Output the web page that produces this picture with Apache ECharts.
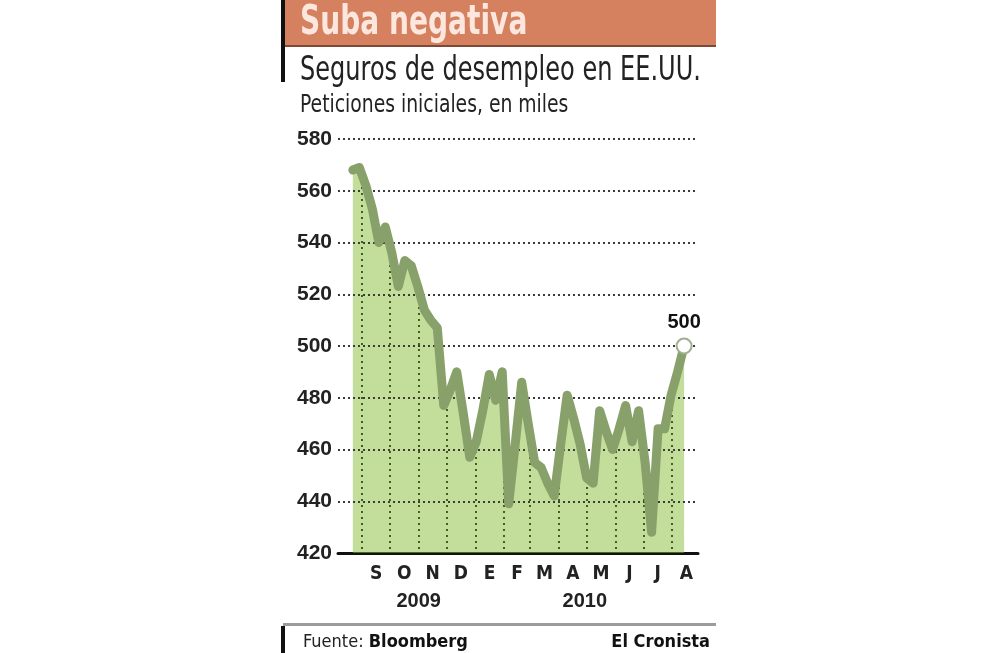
<!DOCTYPE html>
<html>
<head>
<meta charset="utf-8">
<script src="https://cdn.jsdelivr.net/npm/echarts@6/dist/echarts.min.js"></script>
<style>
  html, body { margin: 0; padding: 0; background: #fff; }
  #chart { width: 1000px; height: 653px; }
</style>
</head>
<body>
<div id="chart"></div>
<script>
// semanas (fin de semana) y peticiones iniciales, en miles
const weeks = [
  '2009-08-22', '2009-08-29', '2009-09-05', '2009-09-12', '2009-09-19', '2009-09-26',
  '2009-10-03', '2009-10-10', '2009-10-17', '2009-10-24', '2009-10-31',
  '2009-11-07', '2009-11-14', '2009-11-21', '2009-11-28',
  '2009-12-05', '2009-12-12', '2009-12-19', '2009-12-26',
  '2010-01-02', '2010-01-09', '2010-01-16', '2010-01-23', '2010-01-30',
  '2010-02-06', '2010-02-13', '2010-02-20', '2010-02-27',
  '2010-03-06', '2010-03-13', '2010-03-20', '2010-03-27',
  '2010-04-03', '2010-04-10', '2010-04-17', '2010-04-24',
  '2010-05-01', '2010-05-08', '2010-05-15', '2010-05-22', '2010-05-29',
  '2010-06-05', '2010-06-12', '2010-06-19', '2010-06-26',
  '2010-07-03', '2010-07-10', '2010-07-17', '2010-07-24', '2010-07-31',
  '2010-08-07', '2010-08-14'
];
const claims = [
  568, 569, 562, 553, 540, 546,
  536, 523, 533, 531, 523,
  514, 510, 507, 477,
  483, 490, 474, 457,
  463, 475, 489, 479, 490,
  439, 462, 486, 470,
  455, 453, 447, 442,
  462, 481, 472, 462,
  449, 447, 475, 467, 460,
  468, 477, 463, 475,
  455, 428, 468, 468, 481,
  490, 500
];
const monthBounds = [
  '2009-09-01', '2009-10-01', '2009-11-01', '2009-12-01', '2010-01-01', '2010-02-01',
  '2010-03-01', '2010-04-01', '2010-05-01', '2010-06-01', '2010-07-01', '2010-08-01',
  '2010-09-01'
];
const monthLabels = ['S', 'O', 'N', 'D', 'E', 'F', 'M', 'A', 'M', 'J', 'J', 'A'];
const yearLabels = ['2009', '2010'];
const yearDates = ['2009-11-01', '2010-04-29'];
const yTicks = [440, 460, 480, 500, 520, 540, 560, 580];

const FONT = "'Liberation Sans Narrow', 'DejaVu Sans Condensed', 'Liberation Sans', sans-serif";
const NUM_FONT = "'Liberation Sans', Arial, sans-serif";
const ts = d => Date.parse(d + 'T00:00:00Z');

const boundsT = monthBounds.map(ts);
const monthStartsT = boundsT.slice(0, 12);
const monthMidsT = monthStartsT.map((b, i) => Math.round((b + boundsT[i + 1]) / 2));
const yearT = yearDates.map(ts);
const xMin = ts('2009-08-06');
const xMax = ts('2010-08-29');

// etiqueta más cercana a un valor del eje
function nearest(list, labels) {
  return function (value) {
    let best = 0;
    list.forEach((v, i) => {
      if (Math.abs(v - value) < Math.abs(list[best] - value)) best = i;
    });
    return labels[best];
  };
}

// texto con compresión horizontal (tipografía angosta del original)
function squeezed(text, x, y, sx, size, weight, color) {
  return {
    type: 'text', z: 10, x: x, y: y, scaleX: sx,
    style: {
      text: text, x: 0, y: 0, verticalAlign: 'top',
      fontFamily: FONT, fontSize: size, fontWeight: weight, fill: color
    }
  };
}

const pts = weeks.map((w, i) => [ts(w), claims[i]]);
const linePts = pts.map((p, i) => {
  if (i < pts.length - 1) return p;
  return {
    value: p,
    symbol: 'circle',
    symbolSize: 15,
    itemStyle: { color: '#fff', borderColor: '#a0ad90', borderWidth: 2 },
    label: {
      show: true,
      position: 'top',
      distance: 5,
      formatter: (prm) => prm.value[1],
      fontFamily: NUM_FONT,
      fontWeight: 'bold',
      fontSize: 20,
      color: '#111'
    }
  };
});

const chart = echarts.init(document.getElementById('chart'));
chart.setOption({
  backgroundColor: '#fff',
  animation: false,
  title: [
    {
      text: 'Fuente: {b|Bloomberg}', left: 298, top: 628,
      textStyle: {
        fontFamily: FONT, fontWeight: 'normal', fontSize: 18, color: '#222',
        rich: { b: { fontFamily: FONT, fontWeight: 'bold', fontSize: 18, color: '#111' } }
      }
    },
    {
      text: 'El Cronista', right: 285, top: 628,
      textStyle: { fontFamily: FONT, fontWeight: 'bold', fontSize: 18, color: '#111' }
    }
  ],
  graphic: [
    { type: 'rect', z: 0, shape: { x: 283, y: 0, width: 433, height: 46 }, style: { fill: '#d5805f' } },
    { type: 'rect', z: 0, shape: { x: 283, y: 45, width: 433, height: 2 }, style: { fill: '#7d4a38' } },
    { type: 'rect', z: 0, shape: { x: 281, y: 0, width: 4, height: 82 }, style: { fill: '#111' } },
    { type: 'rect', z: 0, shape: { x: 283, y: 623, width: 433, height: 3 }, style: { fill: '#9c9c9c' } },
    { type: 'rect', z: 0, shape: { x: 281, y: 626, width: 4, height: 27 }, style: { fill: '#111' } },
    squeezed('Suba negativa', 300, 4, 0.78, 40, 'bold', '#fbe7de'),
    squeezed('Seguros de desempleo en EE.UU.', 300, 55, 0.81, 33, 'normal', '#222'),
    squeezed('Peticiones iniciales, en miles', 300, 94, 0.87, 24, 'normal', '#222')
  ],
  grid: { left: 338, right: 302, top: 139, bottom: 100 },
  xAxis: [
    {
      type: 'value',
      min: xMin,
      max: xMax,
      axisLine: { show: true, lineStyle: { color: '#111', width: 3 } },
      axisTick: { show: false, customValues: monthStartsT },
      splitLine: { show: true, lineStyle: { color: '#000', type: [2, 4], width: 2 } },
      axisLabel: {
        customValues: monthMidsT,
        formatter: nearest(monthMidsT, monthLabels),
        fontFamily: FONT, fontWeight: 'bold', fontSize: 19, color: '#222', margin: 12
      }
    },
    {
      type: 'value',
      min: xMin,
      max: xMax,
      position: 'bottom',
      offset: 26,
      axisLine: { show: false },
      axisTick: { show: false },
      splitLine: { show: false },
      axisLabel: {
        customValues: yearT,
        formatter: nearest(yearT, yearLabels),
        fontFamily: NUM_FONT, fontWeight: 'bold', fontSize: 20, color: '#222', margin: 12
      }
    }
  ],
  yAxis: {
    type: 'value',
    min: 420,
    max: 580,
    interval: 20,
    axisLine: { show: false },
    axisTick: { show: false },
    splitLine: { show: false },
    axisLabel: { fontFamily: NUM_FONT, fontWeight: 'bold', fontSize: 21, color: '#222', margin: 6 }
  },
  series: [
    {
      // relleno verde (deja ver las líneas verticales)
      type: 'line', data: pts, symbol: 'none', silent: true, z: 2,
      lineStyle: { width: 0 },
      areaStyle: { color: 'rgb(135,189,55)', opacity: 0.5, origin: 'start' }
    },
    {
      // blanco por encima de la curva + grilla horizontal
      type: 'line', data: pts, symbol: 'none', silent: true, z: 3,
      lineStyle: { width: 0 },
      areaStyle: { color: '#fff', opacity: 1, origin: 'end' },
      markLine: {
        silent: true,
        symbol: 'none',
        label: { show: false },
        lineStyle: { color: '#3a3a3a', type: [2, 3], width: 2 },
        data: yTicks.map(v => ({ yAxis: v }))
      }
    },
    {
      type: 'line', data: linePts, symbol: 'none', z: 6,
      lineStyle: { color: '#88a06a', width: 9, join: 'round', cap: 'round' }
    }
  ]
});
</script>
</body>
</html>
